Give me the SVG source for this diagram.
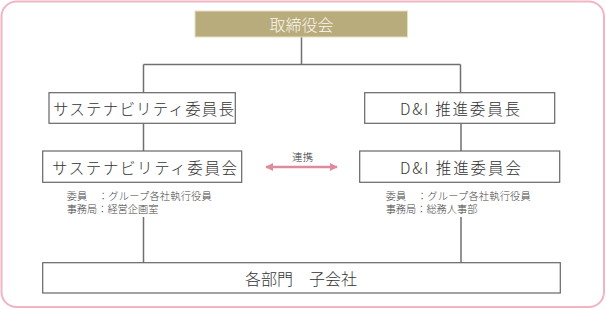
<svg xmlns="http://www.w3.org/2000/svg" width="606" height="309" viewBox="0 0 606 309">
<style>
.box{fill:#fff;stroke:#666;stroke-width:1.2}
.t{font-family:"Noto Sans CJK JP","Noto Sans",sans-serif;font-weight:300;fill:#333;text-anchor:middle;dominant-baseline:central}
.big{font-size:15.5px}
.small{font-family:"Noto Sans CJK JP","Noto Sans",sans-serif;font-weight:300;fill:#444;font-size:10.2px}
.ln{stroke:#707070;stroke-width:1.5;fill:none}
</style>
<defs>
<marker id="ah" viewBox="0 0 10 10" refX="9" refY="5" markerWidth="3.2" markerHeight="3.2" orient="auto-start-reverse">
<path d="M0,0 L10,5 L0,10 z" fill="#e08a9e"/>
</marker>
</defs>
<rect x="1.5" y="1.5" width="602.5" height="305.5" rx="15" fill="#fff" stroke="#f0b4c2" stroke-width="2"/>
<g id="connectors">
<path class="ln" d="M301.5,37 V64.5 M143.5,64.5 H460.5 M143.5,64.5 V92.5 M460.5,64.5 V92.5"/>
<path class="ln" d="M143.5,123.5 V151 M461,123.5 V151"/>
<path class="ln" d="M143.5,217 V262.7 M461,217 V262.7"/>
<line x1="266" y1="167" x2="337" y2="167" stroke="#e08a9e" stroke-width="2.5" marker-start="url(#ah)" marker-end="url(#ah)"/>
<text class="t" x="302.5" y="156" style="font-size:10.5px">連携</text>
</g>
<g id="board">
<rect x="195" y="11" width="212.5" height="26" fill="#b8ab7c" stroke="#e6dfc2" stroke-width="1"/>
<text class="t big" x="301.5" y="23.5" style="fill:#fbf8ee;font-size:16px">取締役会</text>
</g>
<g id="sus-chair">
<rect class="box" x="49" y="92.7" width="186.3" height="30.6"/>
<text class="t big" x="143.5" y="108.3" textLength="181" lengthAdjust="spacing">サステナビリティ委員長</text>
</g>
<g id="di-chair">
<rect class="box" x="364.7" y="92.7" width="190" height="30.6"/>
<text class="t big" x="460" y="108.3" textLength="120" lengthAdjust="spacing">D&amp;I 推進委員長</text>
</g>
<g id="sus-committee">
<rect class="box" x="42.7" y="151" width="199" height="31.3"/>
<text class="t big" x="144.5" y="166.7" textLength="185" lengthAdjust="spacing">サステナビリティ委員会</text>
<text class="small" x="66.7" y="199.8" textLength="145" lengthAdjust="spacing">委員　：グループ各社執行役員</text>
<text class="small" x="66.7" y="213.2">事務局：経営企画室</text>
</g>
<g id="di-committee">
<rect class="box" x="359.7" y="151" width="200" height="31.3"/>
<text class="t big" x="460.5" y="166.7" textLength="121" lengthAdjust="spacing">D&amp;I 推進委員会</text>
<text class="small" x="385.7" y="199.8" textLength="145" lengthAdjust="spacing">委員　：グループ各社執行役員</text>
<text class="small" x="385.7" y="213.2">事務局：総務人事部</text>
</g>
<g id="departments">
<rect class="box" x="42.7" y="262.7" width="517.6" height="30.3"/>
<text class="t big" x="301" y="278.3" style="font-size:16px">各部門　子会社</text>
</g>
</svg>
